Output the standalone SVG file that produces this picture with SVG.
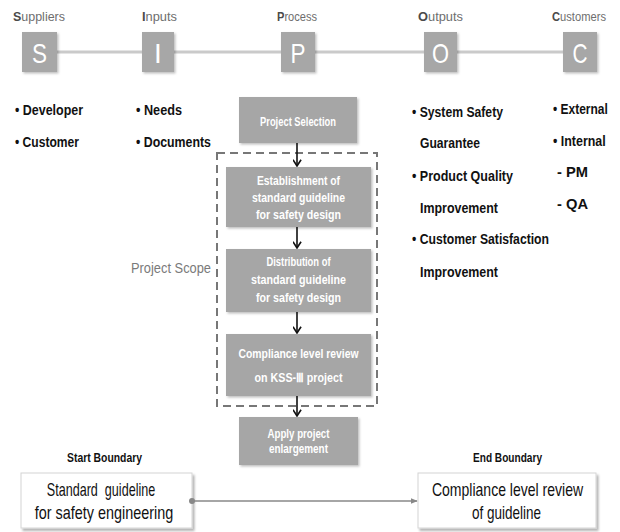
<svg xmlns="http://www.w3.org/2000/svg" width="620" height="532" viewBox="0 0 620 532">
<defs>
<style>
text{font-family:"Liberation Sans","Open Sans",sans-serif;}
.hdr{font-size:13px;fill:#6e6e6e;}
.hdr1{fill:#4a4a4a;font-weight:bold;}
.letter{font-size:28px;fill:#ffffff;text-anchor:middle;}
.sbox{fill:#a7a7a7;}
.bul{font-size:15px;font-weight:bold;fill:#111;}
.pbox{fill:#a6a6a6;filter:url(#sh);}
.ptxt{font-size:12.5px;font-weight:bold;fill:#ffffff;text-anchor:middle;}
.bbox{fill:#ffffff;stroke:#d4d4d4;stroke-width:1;filter:url(#sh2);}
.btxt{font-size:18px;fill:#111;text-anchor:middle;}
.blabel{font-size:13px;font-weight:bold;fill:#111;text-anchor:middle;}
.flow{stroke:#111;stroke-width:1.6;fill:none;marker-end:url(#ah);}
</style>
<filter id="sh" x="-10%" y="-10%" width="125%" height="130%">
<feDropShadow dx="1.5" dy="1.5" stdDeviation="1" flood-color="#000" flood-opacity="0.25"/>
</filter>
<filter id="sh2" x="-10%" y="-10%" width="125%" height="130%">
<feDropShadow dx="2" dy="2.5" stdDeviation="1.2" flood-color="#000" flood-opacity="0.3"/>
</filter>
<marker id="ah" viewBox="0 0 10 10" refX="9" refY="5" markerWidth="9" markerHeight="9" markerUnits="userSpaceOnUse" orient="auto">
<path d="M2,0.5 L9,5 L2,9.5" stroke="#111" stroke-width="1.8" fill="none"/>
</marker>
<marker id="ah2" viewBox="0 0 10 10" refX="9" refY="5" markerWidth="7" markerHeight="7" markerUnits="userSpaceOnUse" orient="auto">
<path d="M0,1 L10,5 L0,9 Z" fill="#888"/>
</marker>
<marker id="dot" viewBox="0 0 10 10" refX="5" refY="5" markerWidth="6" markerHeight="6" markerUnits="userSpaceOnUse">
<circle cx="5" cy="5" r="5" fill="#888"/>
</marker>
</defs>

<g id="sipoc-line">
<line x1="57" y1="52" x2="563" y2="52" stroke="#cacaca" stroke-width="3"/>
</g>

<g id="node-S">
<text class="hdr" x="13" y="21" textLength="52" lengthAdjust="spacingAndGlyphs"><tspan class="hdr1">S</tspan>uppliers</text>
<rect class="sbox" x="22" y="32" width="35" height="40" filter="url(#sh)"/>
<text class="letter" x="39.5" y="63" textLength="15" lengthAdjust="spacingAndGlyphs">S</text>
</g>
<g id="node-I">
<text class="hdr" x="142" y="21" textLength="35" lengthAdjust="spacingAndGlyphs"><tspan class="hdr1">I</tspan>nputs</text>
<rect class="sbox" x="142" y="32" width="32" height="40" filter="url(#sh)"/>
<text class="letter" x="158" y="63">I</text>
</g>
<g id="node-P">
<text class="hdr" x="277" y="21" textLength="40" lengthAdjust="spacingAndGlyphs"><tspan class="hdr1">P</tspan>rocess</text>
<rect class="sbox" x="281" y="32" width="34" height="40" filter="url(#sh)"/>
<text class="letter" x="298" y="63" textLength="15" lengthAdjust="spacingAndGlyphs">P</text>
</g>
<g id="node-O">
<text class="hdr" x="418" y="21" textLength="45" lengthAdjust="spacingAndGlyphs"><tspan class="hdr1">O</tspan>utputs</text>
<rect class="sbox" x="424" y="32" width="33" height="40" filter="url(#sh)"/>
<text class="letter" x="440.5" y="63" textLength="17" lengthAdjust="spacingAndGlyphs">O</text>
</g>
<g id="node-C">
<text class="hdr" transform="translate(552,21) scale(0.86,1)" x="0" y="0"><tspan class="hdr1">C</tspan>ustomers</text>
<rect class="sbox" x="563" y="32" width="34" height="40" filter="url(#sh)"/>
<text class="letter" x="580" y="63" textLength="15" lengthAdjust="spacingAndGlyphs">C</text>
</g>

<g id="suppliers-list">
<text class="bul" x="15" y="115" textLength="68" lengthAdjust="spacingAndGlyphs">• Developer</text>
<text class="bul" x="15" y="147" textLength="64" lengthAdjust="spacingAndGlyphs">• Customer</text>
</g>
<g id="inputs-list">
<text class="bul" x="136" y="115" textLength="46" lengthAdjust="spacingAndGlyphs">• Needs</text>
<text class="bul" x="136" y="147" textLength="75" lengthAdjust="spacingAndGlyphs">• Documents</text>
</g>
<g id="outputs-list">
<text class="bul" x="412" y="117" textLength="91" lengthAdjust="spacingAndGlyphs">• System Safety</text>
<text class="bul" x="420" y="148" textLength="60" lengthAdjust="spacingAndGlyphs">Guarantee</text>
<text class="bul" x="412" y="181" textLength="101" lengthAdjust="spacingAndGlyphs">• Product Quality</text>
<text class="bul" x="420" y="213" textLength="78" lengthAdjust="spacingAndGlyphs">Improvement</text>
<text class="bul" x="412" y="244" textLength="137" lengthAdjust="spacingAndGlyphs">• Customer Satisfaction</text>
<text class="bul" x="420" y="277" textLength="78" lengthAdjust="spacingAndGlyphs">Improvement</text>
</g>
<g id="customers-list">
<text class="bul" transform="translate(553,114) scale(0.8,1)" x="0" y="0">• External</text>
<text class="bul" transform="translate(553,146) scale(0.83,1)" x="0" y="0">• Internal</text>
<text class="bul" x="557" y="177" textLength="31" lengthAdjust="spacingAndGlyphs">- PM</text>
<text class="bul" x="557" y="209" textLength="31" lengthAdjust="spacingAndGlyphs">- QA</text>
</g>

<g id="project-scope">
<rect x="217" y="153" width="160" height="253" fill="none" stroke="#777" stroke-width="2" stroke-dasharray="8,5"/>
<text x="131" y="273" font-size="14" fill="#7a7a7a" textLength="80" lengthAdjust="spacingAndGlyphs">Project Scope</text>
</g>

<g id="node-selection">
<rect class="pbox" x="239" y="97" width="118" height="46"/>
<text class="ptxt" x="298" y="126" textLength="76" lengthAdjust="spacingAndGlyphs">Project Selection</text>
</g>
<g id="node-establishment">
<rect class="pbox" x="226" y="167" width="145" height="60"/>
<text class="ptxt" x="298.5" y="185" textLength="83" lengthAdjust="spacingAndGlyphs">Establishment of</text>
<text class="ptxt" x="298.5" y="202" textLength="93" lengthAdjust="spacingAndGlyphs">standard guideline</text>
<text class="ptxt" x="298.5" y="219" textLength="85" lengthAdjust="spacingAndGlyphs">for safety design</text>
</g>
<g id="node-distribution">
<rect class="pbox" x="226" y="249" width="145" height="63"/>
<text class="ptxt" x="298.5" y="266" textLength="64" lengthAdjust="spacingAndGlyphs">Distribution of</text>
<text class="ptxt" x="298.5" y="284" textLength="95" lengthAdjust="spacingAndGlyphs">standard guideline</text>
<text class="ptxt" x="298.5" y="302" textLength="85" lengthAdjust="spacingAndGlyphs">for safety design</text>
</g>
<g id="node-compliance">
<rect class="pbox" x="226" y="334" width="145" height="62"/>
<text class="ptxt" x="298.5" y="358" textLength="120" lengthAdjust="spacingAndGlyphs">Compliance level review</text>
<text class="ptxt" x="298.5" y="382" textLength="88" lengthAdjust="spacingAndGlyphs">on KSS-Ⅲ project</text>
</g>
<g id="node-apply">
<rect class="pbox" x="239" y="417" width="119" height="48"/>
<text class="ptxt" x="298.5" y="438" textLength="62" lengthAdjust="spacingAndGlyphs">Apply project</text>
<text class="ptxt" x="298.5" y="453" textLength="59" lengthAdjust="spacingAndGlyphs">enlargement</text>
</g>

<g id="node-start">
<text class="blabel" x="104.5" y="462" textLength="75" lengthAdjust="spacingAndGlyphs">Start Boundary</text>
<rect class="bbox" x="21" y="473" width="171" height="55"/>
<text class="btxt" transform="translate(101,496) scale(0.7,1)" x="0" y="0">Standard&#160; guideline</text>
<text class="btxt" transform="translate(104,519) scale(0.8,1)" x="0" y="0">for safety engineering</text>
</g>
<g id="node-end">
<text class="blabel" x="507.5" y="462" textLength="69" lengthAdjust="spacingAndGlyphs">End Boundary</text>
<rect class="bbox" x="418" y="473" width="178" height="55"/>
<text class="btxt" transform="translate(507.5,496) scale(0.78,1)" x="0" y="0">Compliance level review</text>
<text class="btxt" transform="translate(506.5,519) scale(0.75,1)" x="0" y="0">of guideline</text>
</g>

<g id="connectors">
<line class="flow" x1="297" y1="143" x2="297" y2="166"/>
<line class="flow" x1="297" y1="227" x2="297" y2="248"/>
<line class="flow" x1="297" y1="312" x2="297" y2="333"/>
<line class="flow" x1="297" y1="396" x2="297" y2="416"/>
<line x1="192" y1="501" x2="417" y2="501" stroke="#888" stroke-width="1.5" marker-start="url(#dot)" marker-end="url(#ah2)"/>
</g>
</svg>
